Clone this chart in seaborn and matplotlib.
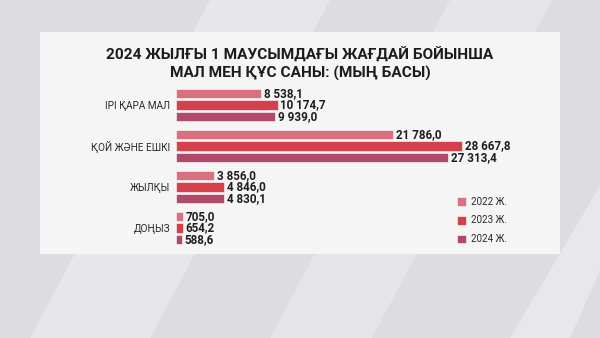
import matplotlib
matplotlib.use("Agg")
import matplotlib.pyplot as plt
import matplotlib.patches as mpatches
import seaborn as sns
import pandas as pd

categories = ["ІРІ ҚАРА МАЛ", "ҚОЙ ЖӘНЕ ЕШКІ", "ЖЫЛҚЫ", "ДОҢЫЗ"]
years = ["2022 Ж.", "2023 Ж.", "2024 Ж."]
values_2022 = [8538.1, 21786.0, 3856.0, 705.0]
values_2023 = [10174.7, 28667.8, 4846.0, 654.2]
values_2024 = [9939.0, 27313.4, 4830.1, 588.6]
colors = ["#d8707f", "#d5404d", "#b14a6a"]
title = "2024 ЖЫЛҒЫ 1 МАУСЫМДАҒЫ ЖАҒДАЙ БОЙЫНША\nМАЛ МЕН ҚҰС САНЫ: (МЫҢ БАСЫ)"

rows = []
for yr, vals in zip(years, [values_2022, values_2023, values_2024]):
    for c, v in zip(categories, vals):
        rows.append({"cat": c, "year": yr, "value": v})
df = pd.DataFrame(rows)

FONT = ["Roboto", "DejaVu Sans"]
sns.set_theme(style="white")
plt.rcParams["font.family"] = FONT

W, H = 600, 338
fig = plt.figure(figsize=(6, 3.38), dpi=100)
fig.patch.set_facecolor("#dddde1")

# background axes (decorative)
bg = fig.add_axes([0, 0, 1, 1], zorder=-5)
bg.set_xlim(0, 1)
bg.set_ylim(0, 1)
bg.axis("off")
for pts, a in [
    ([(0.05, 0), (0.25, 0), (0.55, 1), (0.35, 1)], 0.3),
    ([(0.45, 0), (0.62, 0), (0.92, 1), (0.75, 1)], 0.25),
    ([(0.85, 0), (0.95, 0), (1.0, 0.2), (1.0, 0.45)], 0.35),
]:
    bg.add_patch(mpatches.Polygon(pts, closed=True, facecolor="white", alpha=a, edgecolor="none"))
bg.add_patch(mpatches.Rectangle((40 / W, 1 - 254 / H), 520 / W, (254 - 32) / H,
                                facecolor="#f7f7f8", edgecolor="none", alpha=0.93))

ax_left = 176 / W
ax_w = (560 - 176) / W
ax_top = 84.5
ax_bot = 248.5
ax = fig.add_axes([ax_left, 1 - ax_bot / H, ax_w, (ax_bot - ax_top) / H], zorder=2)
ax.set_facecolor("none")
ax.patch.set_alpha(0)

sns.barplot(data=df, y="cat", x="value", hue="year", hue_order=years, order=categories,
            palette=colors, orient="h", width=0.84, gap=0.2, ax=ax,
            edgecolor="white", linewidth=0.4, saturation=1)

px_per_unit = 286 / 28667.8
ax.set_xlim(0, (560 - 176) / px_per_unit)
ax.set_ylim(3.5, -0.5)

def fmt(v):
    s = f"{v:,.1f}"
    return s.replace(",", " ").replace(".", ",")

for cont in ax.containers:
    ax.bar_label(cont, labels=[fmt(b.get_width()) for b in cont], padding=2,
                 fontsize=8.4, fontweight="bold", color="#1e1e1e", family=FONT)

ax.set_xlabel("")
ax.set_ylabel("")
ax.set_xticks([])
ax.tick_params(axis="y", length=0, pad=4, labelsize=7.2, labelcolor="#2a2a2a")
for s in ax.spines.values():
    s.set_visible(False)

handles, labels = ax.get_legend_handles_labels()
ax.legend(handles, labels, loc="upper left", bbox_to_anchor=(448 / W, 1 - 188 / H),
          bbox_transform=fig.transFigure, frameon=False, fontsize=7,
          handlelength=1.0, handleheight=1.0, handletextpad=0.5, labelspacing=0.9,
          labelcolor="#2a2a2a")

fig.text(0.5, 1 - 64.5 / H, title, ha="center", va="center", fontsize=11.1,
         fontweight="bold", color="#1c1c1c", linespacing=1.25, family=FONT)

fig.savefig("out.png", dpi=100, facecolor=fig.get_facecolor())
